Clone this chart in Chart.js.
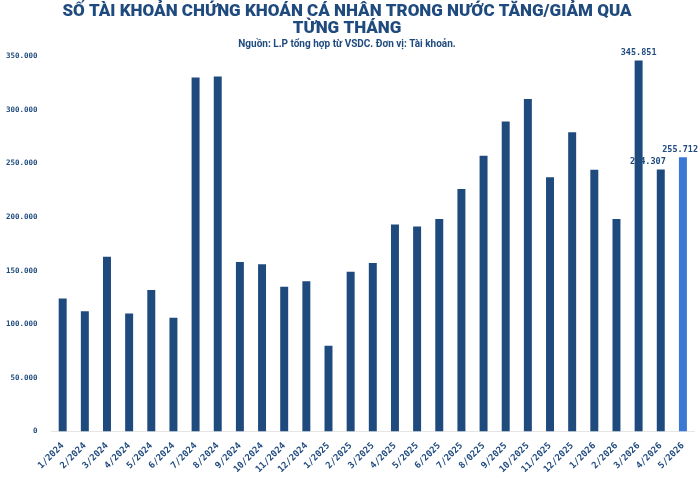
<!DOCTYPE html>
<html><head><meta charset="utf-8">
<script src="https://cdn.jsdelivr.net/npm/chart.js@4"></script>
<style>body{margin:0;background:#fff}#w{width:700px;height:478px}</style>
</head><body><div id="w"><canvas id="c"></canvas></div>
<script>
const labels = ['1/2024','2/2024','3/2024','4/2024','5/2024','6/2024','7/2024','8/2024','9/2024','10/2024','11/2024','12/2024',
  '1/2025','2/2025','3/2025','4/2025','5/2025','6/2025','7/2025','8/0225','9/2025','10/2025','11/2025','12/2025',
  '1/2026','2/2026','3/2026','4/2026','5/2026'];
const accounts = [124000,112000,163000,110000,132000,106000,330000,331000,158000,156000,135000,140000,
  80000,149000,157000,193000,191000,198000,226000,257000,289000,310000,237000,279000,
  244000,198000,345851,244307,255712];
const shownLabels = [26,27,28];
const fmt = v => Math.round(v).toString().replace(/\B(?=(\d{3})+(?!\d))/g,'.');
const mono = 'DejaVu Sans Mono';
const navy = '#1f4a7e';

const labelPlugin = {
  id:'vals',
  afterDatasetsDraw(chart){
    const ctx = chart.ctx, meta = chart.getDatasetMeta(0);
    ctx.save();
    ctx.font = 'bold 8.5px ' + mono; ctx.fillStyle = navy; ctx.textBaseline='bottom';
    shownLabels.forEach(i => {
      const el = meta.data[i];
      if (i === 27) { ctx.textAlign='right'; ctx.fillText(fmt(accounts[i]), el.x + 5, el.y - 3); }
      else if (i === 28) { ctx.textAlign='right'; ctx.fillText(fmt(accounts[i]), 698, el.y - 3); }
      else { ctx.textAlign='center'; ctx.fillText(fmt(accounts[i]), el.x, el.y - 3); }
    });
    ctx.restore();
  }
};

new Chart(document.getElementById('c'), {
  type:'bar',
  data:{labels, datasets:[{data:accounts,
    backgroundColor: accounts.map((v,i)=> i===28 ? '#3a78d4' : navy),
    barPercentage:0.36, categoryPercentage:1}]},
  options:{
    responsive:true, maintainAspectRatio:false, animation:false,
    layout:{padding:{left:0,right:6,top:0,bottom:2}},
    plugins:{
      legend:{display:false}, tooltip:{enabled:false},
      title:{display:true, text:['SỐ TÀI KHOẢN CHỨNG KHOÁN CÁ NHÂN TRONG NƯỚC TĂNG/GIẢM QUA','TỪNG THÁNG'],
        color:navy, font:{family:'Roboto', size:17, weight:'900', lineHeight:1.0}, padding:{top:3,bottom:0}},
      subtitle:{display:true, text:'Nguồn: L.P tổng hợp từ VSDC. Đơn vị: Tài khoản.', color:navy,
        font:{family:'Roboto', size:10, weight:'bold'}, padding:{top:1,bottom:6}}
    },
    scales:{
      x:{grid:{display:false}, border:{color:'#e5e5e5'},
        ticks:{color:navy, font:{family:mono, size:9, weight:'bold'}, maxRotation:45, minRotation:45, autoSkip:false, padding:1}},
      y:{min:0, max:350000, grid:{display:false}, border:{display:false},
        ticks:{stepSize:50000, color:navy, font:{family:mono, size:7.5, weight:'bold'}, padding:6, callback:v=>fmt(v)}}
    }
  },
  plugins:[labelPlugin]
});
</script></body></html>
